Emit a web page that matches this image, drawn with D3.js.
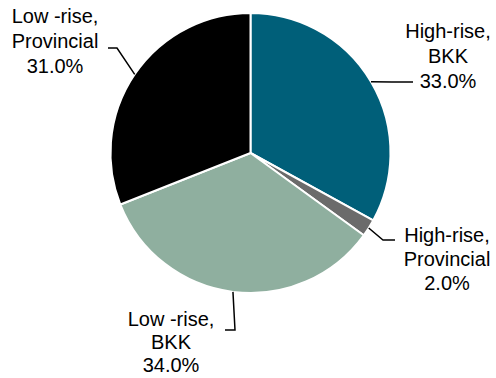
<!DOCTYPE html>
<html>
<head>
<meta charset="utf-8">
<script src="https://cdn.jsdelivr.net/npm/d3@7"></script>
<style>
  body { margin: 0; background: #fff; }
  text { font-family: "Liberation Sans", Arial, sans-serif; font-size: 20px; fill: #000; }
</style>
</head>
<body>
<div id="chart"></div>
<script>
var categories = ["High-rise, BKK", "High-rise, Provincial", "Low-rise, BKK", "Low-rise, Provincial"];
var labelLines = [["High-rise,", "BKK"], ["High-rise,", "Provincial"], ["Low -rise,", "BKK"], ["Low -rise,", "Provincial"]];
var shares = [33.0, 2.0, 34.0, 31.0];
var colors = ["#005f79", "#6b6b6b", "#8faf9f", "#000000"];

// leader line elbow / end and text placement, per slice
var layout = [
  { elbow: [392, 82], end: [413, 82], tx: 448, ty: 38, lh: 25 },
  { elbow: [383, 240], end: [395, 240], tx: 447, ty: 242, lh: 24 },
  { elbow: [235, 330], end: [225, 330], tx: 171, ty: 326, lh: 23 },
  { elbow: [117, 48], end: [108, 48], tx: 55, ty: 23, lh: 25 }
];

var width = 496, height = 378;
var cx = 250.5, cy = 153, r = 140;

var svg = d3.select("#chart").append("svg")
  .attr("width", width)
  .attr("height", height);

var pie = d3.pie().sort(null).value(function (d) { return d; });
var arcs = pie(shares);
var arc = d3.arc().innerRadius(0).outerRadius(r);

var g = svg.append("g").attr("transform", "translate(" + cx + "," + cy + ")");

g.selectAll("path.slice")
  .data(arcs)
  .enter().append("path")
  .attr("class", "slice")
  .attr("d", arc)
  .attr("fill", function (d, i) { return colors[i]; })
  .attr("stroke", "#fff")
  .attr("stroke-width", 2)
  .attr("stroke-linejoin", "round");

// leader lines from the slice edge at its mid angle
svg.selectAll("polyline.leader")
  .data(arcs)
  .enter().append("polyline")
  .attr("class", "leader")
  .attr("fill", "none")
  .attr("stroke", "#000")
  .attr("stroke-width", 1.5)
  .attr("points", function (d, i) {
    var a = (d.startAngle + d.endAngle) / 2;
    var p0 = [cx + Math.sin(a) * r, cy - Math.cos(a) * r];
    return [p0, layout[i].elbow, layout[i].end].map(function (p) { return p.join(","); }).join(" ");
  });

var labels = svg.selectAll("text.lbl")
  .data(arcs)
  .enter().append("text")
  .attr("class", "lbl")
  .attr("text-anchor", "middle")
  .attr("x", function (d, i) { return layout[i].tx; })
  .attr("y", function (d, i) { return layout[i].ty; });

labels.each(function (d, i) {
  var t = d3.select(this);
  var lines = labelLines[i].concat([d3.format(".1f")(shares[i]) + "%"]);
  lines.forEach(function (s, k) {
    t.append("tspan")
      .attr("x", layout[i].tx)
      .attr("dy", k == 0 ? 0 : layout[i].lh)
      .text(s);
  });
});
</script>
</body>
</html>
